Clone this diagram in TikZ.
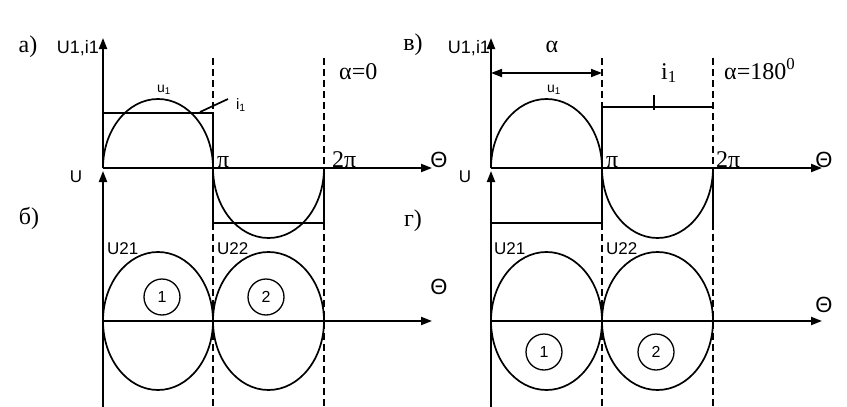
\documentclass[tikz,border=0pt]{standalone}
\usepackage{fontspec}
\setmainfont{Liberation Serif}
\setsansfont{Liberation Sans}
\usetikzlibrary{arrows.meta}
\tikzset{
  axis/.style = {line width=2pt,-{Triangle[length=11pt,width=8pt]}},
  wave/.style = {line width=1.7pt},
  guide/.style = {line width=1.6pt,dash pattern=on 7pt off 4pt},
  sflab/.style = {inner sep=0pt,font=\sffamily\fontsize{17}{17}\selectfont},
  smalllab/.style = {inner sep=0pt,font=\sffamily\fontsize{14}{14}\selectfont},
  rmlab/.style = {inner sep=0pt,font=\fontsize{24}{24}\selectfont},
  thetalab/.style = {inner sep=0pt,font=\sffamily\fontsize{22}{22}\selectfont},
  numcirc/.style = {draw,circle,line width=1.3pt,minimum size=36pt,inner sep=0pt,
    font=\sffamily\fontsize{16}{16}\selectfont}
}
\begin{document}
\begin{tikzpicture}[x=1pt,y=-1pt]
\useasboundingbox (0,0) rectangle (847,407);
% left half: a) and b)
\coordinate (O1) at (103,168);
\coordinate (P1) at (213,168);
\coordinate (Q1) at (324,168);
\coordinate (L1) at (103,321);
\draw[guide] (213,58) -- (213,407);
\draw[guide] (324,58) -- (324,407);
\draw[axis] (O1) -- (103,38);
\draw[axis] (103,407) -- (103,171);
\draw[axis] (O1) -- (432,168);
\draw[axis] (L1) -- (432,321);
\draw[wave] (O1) arc[start angle=180,end angle=360,x radius=55,y radius=69]
  arc[start angle=180,end angle=0,x radius=55.5,y radius=70];
\draw[wave] (103,113) -- (213,113) -- (213,223) -- (324,223) -- (Q1);
\draw[wave] (200,112) -- (228,99);
\draw[wave] (158,321) ellipse[x radius=55,y radius=69];
\draw[wave] (268.5,321) ellipse[x radius=55.5,y radius=69];
\node[numcirc] (c1) at (162,297) {1};
\node[numcirc] (c2) at (266,297) {2};
\node[rmlab] (la) at (28,47) {а)};
\node[rmlab] (lb) at (29,218) {б)};
\node[sflab,font=\sffamily\fontsize{18}{18}\selectfont] (ya) at (78,48) {U1,i1};
\node[sflab] (yb) at (76,177) {U};
\node[smalllab] (u1a) at (164,90) {u\textsubscript{1}};
\node[smalllab,font=\sffamily\fontsize{15}{15}\selectfont] (i1a) at (241,105) {i\textsubscript{1}};
\node[rmlab,anchor=base west] (pia) at (217,167) {π};
\node[rmlab,anchor=base west] (tpa) at (332,167) {2π};
\node[rmlab,anchor=base west] (ala) at (339,79) {α=0};
\node[thetalab] (tha) at (439,160) {Θ};
\node[thetalab] (thb) at (439,287) {Θ};
\node[sflab,anchor=west] (u21a) at (107,249) {U21};
\node[sflab,anchor=west] (u22a) at (217,249) {U22};
% right half: v) and g)
\coordinate (O2) at (491,168);
\coordinate (P2) at (602,168);
\coordinate (Q2) at (713,168);
\coordinate (L2) at (491,321);
\draw[guide] (602,58) -- (602,407);
\draw[guide] (713,58) -- (713,407);
\draw[axis] (O2) -- (491,38);
\draw[axis] (491,407) -- (491,171);
\draw[axis] (O2) -- (822,168);
\draw[axis] (L2) -- (822,321);
\draw[wave] (O2) arc[start angle=180,end angle=360,x radius=55.5,y radius=69]
  arc[start angle=180,end angle=0,x radius=55.5,y radius=70];
\draw[wave] (491,223) -- (602,223) -- (602,107) -- (713,107);
\draw[wave] (Q2) -- (713,225);
\draw[wave] (654,95) -- (654,110);
\draw[wave,{Triangle[length=11pt,width=8pt]}-{Triangle[length=11pt,width=8pt]}]
  (491,73) -- (602,73);
\draw[wave] (546.5,321) ellipse[x radius=55.5,y radius=69];
\draw[wave] (657.5,321) ellipse[x radius=55.5,y radius=69];
\node[numcirc] (c3) at (544,352) {1};
\node[numcirc] (c4) at (656,352) {2};
\node[rmlab] (lv) at (413,45) {в)};
\node[rmlab] (lg) at (413,221) {г)};
\node[sflab,font=\sffamily\fontsize{18}{18}\selectfont] (yv) at (469,48) {U1,i1};
\node[sflab] (yg) at (465,177) {U};
\node[smalllab] (u1v) at (554,90) {u\textsubscript{1}};
\node[rmlab,anchor=base] (alv) at (552,52) {α};
\node[rmlab,anchor=base west] (i1v) at (661,79) {i\textsubscript{1}};
\node[rmlab,anchor=base west] (piv) at (606,167) {π};
\node[rmlab,anchor=base west] (tpv) at (716,167) {2π};
\node[rmlab,anchor=base west] (alw) at (724,79) {α=180\textsuperscript{0}};
\node[thetalab] (thv) at (824,160) {Θ};
\node[thetalab] (thg) at (824,305) {Θ};
\node[sflab,anchor=west] (u21v) at (494,249) {U21};
\node[sflab,anchor=west] (u22v) at (606,249) {U22};
\end{tikzpicture}
\end{document}
